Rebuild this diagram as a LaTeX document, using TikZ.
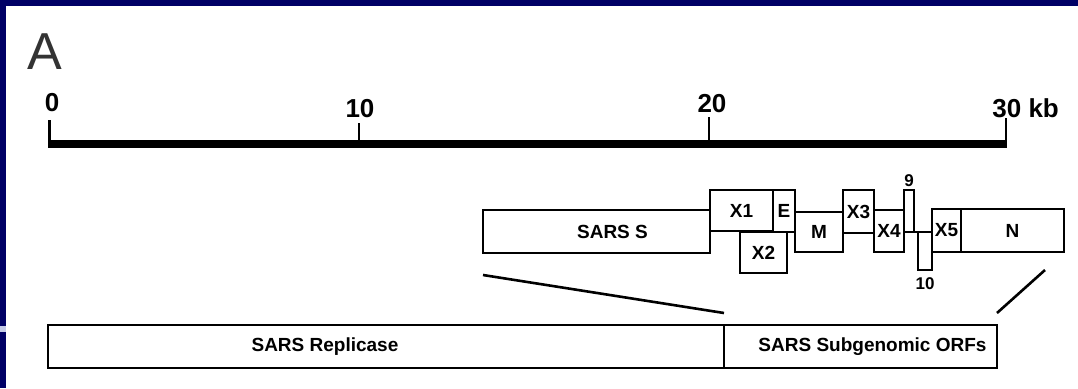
\documentclass[tikz,border=0pt]{standalone}
\usepackage{fontspec}
\setmainfont{Liberation Sans}
\usepackage{tikz}
\usetikzlibrary{positioning}

\definecolor{slideblue}{RGB}{0,0,102}
\definecolor{slidelight}{RGB}{196,202,232}

\begin{document}
\begin{tikzpicture}[x=0.5pt,y=-0.5pt,
    font=\fontsize{9.5}{11}\selectfont\bfseries,
    gene/.style={draw,line width=1.4pt,fill=white,inner sep=0pt,outer sep=0pt},
    kblabel/.style={font=\fontsize{13}{15}\selectfont\bfseries,inner sep=0pt,anchor=base},
    orflabel/.style={font=\fontsize{8.5}{10}\selectfont\bfseries,inner sep=0pt},
    zoomline/.style={line width=1.3pt}]
    \useasboundingbox (0,0) rectangle (1078,388);

    % Slide frame.
    \fill[white] (0,0) rectangle (1078,388);
    \fill[slideblue] (0,0) rectangle (1078,6);
    \fill[slideblue] (0,0) rectangle (6,388);
    \fill[slidelight] (0,326) rectangle (6,332);

    \node[font=\fontsize{26}{30}\selectfont,text=black!80] (panel-label)
        at (45,51.5) {A};

    % Scale bar.
    \draw[line width=4pt] (48,144) -- (1007,144);
    \foreach \xx/\yy in {49.5/120,359/123,709/117,1006/118}{
        \draw[line width=1.4pt] (\xx,\yy) -- (\xx,141);
    }
    \node[kblabel] (tick-0) at (52,111) {0};
    \node[kblabel] (tick-10) at (360,117) {10};
    \node[kblabel] (tick-20) at (712,112) {20};
    \node[kblabel,anchor=base west] (tick-30) at (992,117) {30 kb};

    % Subgenomic ORFs.
    \node[gene,minimum width=113.5pt,minimum height=21.5pt,
        label={[xshift=8pt]center:SARS S}] (sars-s) at (596.5,231.5) {};
    \node[gene,minimum width=31.5pt,minimum height=20.5pt] (orf-x1)
        at (741.5,210.5) {X1};
    \node[gene,minimum width=11pt,minimum height=21pt] (orf-e)
        at (784,211) {E};
    \node[gene,minimum width=23.5pt,minimum height=20.5pt] (orf-x2)
        at (763.5,252.5) {X2};
    \node[gene,minimum width=24pt,minimum height=20pt] (orf-m)
        at (819,232) {M};
    \node[gene,minimum width=15.5pt,minimum height=21.5pt] (orf-x3)
        at (858.5,211.5) {X3};
    \node[gene,minimum width=15pt,minimum height=21pt] (orf-x4)
        at (889,231) {X4};
    \node[gene,minimum width=5pt,minimum height=21pt] (orf-9)
        at (909,211) {};
    \node[gene,minimum width=7pt,minimum height=19pt] (orf-10)
        at (925,251) {};
    \draw[line width=1.4pt] (orf-9.south east) -- (orf-10.north west);
    \node[gene,minimum width=14.5pt,minimum height=21.5pt] (orf-x5)
        at (946.5,230.5) {X5};
    \node[gene,minimum width=51.5pt,minimum height=21.5pt] (orf-n)
        at (1012.5,230.5) {N};
    \node[orflabel,above=1.5pt of orf-9] (orf-9-label) {9};
    \node[orflabel,below=3.5pt of orf-10] (orf-10-label) {10};

    % Genome.
    \node[gene,minimum width=338pt,minimum height=21.5pt,
        label={[xshift=-30.5pt]center:SARS Replicase}] (replicase)
        at (386,346.5) {};
    \node[gene,minimum width=136.5pt,minimum height=21.5pt,
        label={[xshift=6pt]center:SARS Subgenomic ORFs}] (subgenomic)
        at (860.5,346.5) {};

    \draw[zoomline] ([yshift=-11pt]sars-s.south west)
        -- ([yshift=6pt]subgenomic.north west);
    \draw[zoomline] ([yshift=6pt]subgenomic.north east)
        -- ([shift={(-9.5pt,-9pt)}]orf-n.south east);
\end{tikzpicture}
\end{document}
